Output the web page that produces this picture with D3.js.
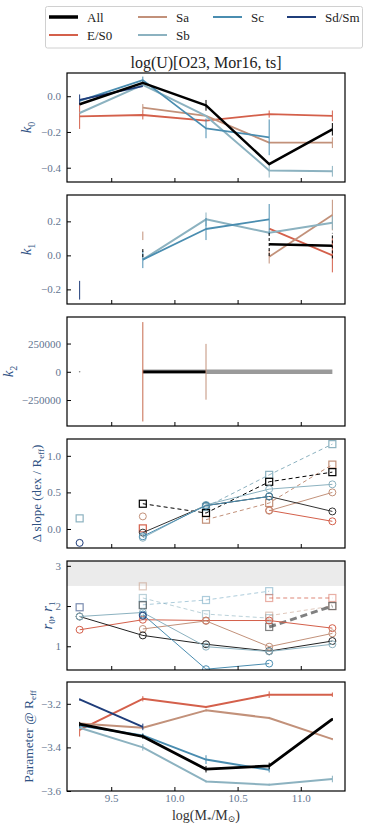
<!DOCTYPE html>
<html>
<head>
<meta charset="utf-8">
<script src="https://cdn.jsdelivr.net/npm/d3@7"></script>
<style>
  body { margin: 0; background: #fff; }
  svg text { font-family: "Liberation Serif", "DejaVu Serif", serif; }
</style>
</head>
<body>
<div id="chart"></div>
<script>
// stellar mass bins
const masses = [9.25, 9.75, 10.25, 10.75, 11.25];
const xTicks = [9.5, 10.0, 10.5, 11.0];

// k0
const k0All = [-0.045, 0.075, -0.051, -0.38, -0.185];
const k0ES0 = [-0.113, -0.105, -0.136, -0.10, -0.11];
const k0Sa  = [null, -0.064, -0.11, -0.26, -0.26];
const k0Sb  = [-0.094, 0.064, -0.11, -0.415, -0.42];
const k0Sc  = [-0.026, 0.09, -0.18, -0.23, null];
const k0Sd  = [-0.02, 0.057, null, null, null];
const k0AllErr = [0, 0, 0.03, 0, 0.035];
const k0ES0Err = [0.07, 0.025, 0, 0.02, 0.03];
const k0SaErr  = [0, 0.02, 0, 0, 0.03];
const k0SbErr  = [0, 0, 0, 0.04, 0.03];
const k0ScErr  = [0, 0.02, 0.055, 0.1, 0];
const k0SdErr  = [0.03, 0, 0, 0, 0];

// k1
const k1All = [null, 0.015, null, 0.066, 0.057];
const k1ES0 = [null, null, null, 0.157, 0.0];
const k1Sa  = [null, 0.115, null, -0.008, 0.237];
const k1Sb  = [null, -0.025, 0.212, 0.133, 0.192];
const k1Sc  = [null, -0.025, 0.155, 0.212, null];
const k1Sd  = [-0.205, null, null, null, null];
const k1AllErr = [0, 0.025, 0, 0.07, 0.075];
const k1ES0Err = [0, 0, 0, 0, 0.1];
const k1SaErr  = [0, 0.025, 0, 0.04, 0.09];
const k1SbErr  = [0, 0, 0.04, 0, 0.04];
const k1ScErr  = [0, 0.05, 0.065, 0.09, 0];
const k1SdErr  = [0.055, 0, 0, 0, 0];

// k2
const k2All   = [null, 0, 0, null, null];
const k2Grey  = [null, 0, 0, 0, 0];
const k2Dot   = [0, null, null, null, null];
const k2ES0Err = [0, 440000, 0, 0, 0];
const k2SaErr  = [0, 0, 247000, 0, 0];

// delta slope: circles (solid) and squares (dashed)
const dsAllC = [null, -0.05, 0.32, 0.445, 0.24];
const dsES0C = [null, null, null, 0.255, 0.105];
const dsSaC  = [null, 0.172, null, 0.25, 0.5];
const dsSbC  = [null, -0.12, 0.33, 0.545, 0.61];
const dsScC  = [null, -0.1, 0.32, 0.445, null];
const dsSdC  = [-0.19, null, null, null, null];
const dsAllS = [null, 0.345, 0.218, 0.645, 0.777];
const dsES0S = [null, 0.008, null, null, null];
const dsSaS  = [null, null, 0.127, 0.355, 0.88];
const dsSbS  = [0.145, null, 0.3, 0.74, 1.16];

// r0 (circles) and r1 (squares)
const rAllC = [1.74, 1.27, 1.05, 0.88, 1.13];
const rES0C = [1.41, 1.66, 1.64, 1.64, 1.45];
const rSaC  = [null, 1.43, 1.63, 0.99, 1.32];
const rSbC  = [1.74, 1.84, 0.99, 0.87, 1.05];
const rScC  = [null, 1.79, 0.43, 0.57, null];
const rSdC  = [null, 1.76, null, null, null];
const rAllS = [null, 2.02, null, 1.48, 2.0];
const rES0S = [null, null, null, 2.2, 2.2];
const rSaS  = [null, 2.49, null, 1.76, 2.0];
const rSbS  = [null, 2.2, 1.8, 1.7, null];
const rScS  = [null, 2.03, 2.15, 2.37, null];
const rSdS  = [1.97, null, null, null, null];

// parameter at Reff
const pAll = [-3.293, -3.35, -3.5, -3.485, -3.27];
const pES0 = [-3.32, -3.177, -3.215, -3.158, -3.158];
const pSa  = [-3.29, -3.31, -3.23, -3.265, -3.362];
const pSb  = [-3.31, -3.40, -3.556, -3.571, -3.545];
const pSc  = [-3.30, -3.345, -3.456, -3.503, null];
const pSd  = [-3.18, -3.306, null, null, null];
const pAllErr = [0.01, 0.01, 0.015, 0.015, 0.005];
const pES0Err = [0.03, 0.012, 0.005, 0.015, 0.01];
const pSaErr  = [0.005, 0.005, 0.005, 0.005, 0.005];
const pSbErr  = [0.005, 0.015, 0.005, 0.005, 0.015];
const pScErr  = [0.01, 0.01, 0.02, 0.012, 0];
const pSdErr  = [0.005, 0.015, 0, 0, 0];

const colors = {
    All: '#000000', 'E/S0': '#d4604b', Sa: '#c2917a',
    Sb: '#8cb2c0', Sc: '#4a8db0', 'Sd/Sm': '#1f3d7a'
};

const W = 373, H = 828;
const left = 67, right = 345, panelH = 109;
const tickColor = '#5f7590';
const labelColor = '#2f5283';

const svg = d3.select('#chart').append('svg')
    .attr('width', W).attr('height', H);

const x = d3.scaleLinear().domain([9.15, 11.35]).range([left, right]);

function drawPanel(p) {
    const top = p.top, bottom = p.top + panelH;
    const y = d3.scaleLinear().domain(p.domain).range([bottom, top]);
    const g = svg.append('g');

    g.append('defs').append('clipPath').attr('id', 'clip' + p.id)
        .append('rect').attr('x', left).attr('y', top)
        .attr('width', right - left).attr('height', panelH);

    const plot = g.append('g').attr('clip-path', `url(#clip${p.id})`);

    if (p.band) {
        plot.append('rect')
            .attr('x', left).attr('width', right - left)
            .attr('y', y(p.domain[1])).attr('height', y(p.band) - y(p.domain[1]))
            .attr('fill', '#ebebeb');
    }

    p.series.forEach(s => {
        const pts = s.values.map((v, i) => ({ x: masses[i], v: v, e: s.errs ? s.errs[i] : 0 }));
        const line = d3.line()
            .defined(d => d.v !== null)
            .x(d => x(d.x)).y(d => y(d.v));
        if (s.width) {
            plot.append('path')
                .datum(pts)
                .attr('d', line)
                .attr('fill', 'none')
                .attr('stroke', s.color)
                .attr('stroke-width', s.width)
                .attr('stroke-dasharray', s.dash || null)
                .attr('opacity', s.opacity || 1)
                .attr('stroke-linejoin', 'round');
        }
        // error bars
        pts.filter(d => d.v !== null && d.e > 0).forEach(d => {
            plot.append('line')
                .attr('x1', x(d.x)).attr('x2', x(d.x))
                .attr('y1', y(d.v - d.e)).attr('y2', y(d.v + d.e))
                .attr('stroke', s.errColor || s.color)
                .attr('stroke-width', 1)
                .attr('stroke-dasharray', s.errDash || null)
                .attr('opacity', s.opacity || 1);
        });
        // markers
        const mk = pts.filter(d => d.v !== null);
        if (s.marker === 'circle') {
            mk.forEach(d => {
                plot.append('circle')
                    .attr('cx', x(d.x)).attr('cy', y(d.v)).attr('r', 3.5)
                    .attr('fill', 'none').attr('stroke', s.color)
                    .attr('stroke-width', 1).attr('opacity', s.opacity || 1);
            });
        } else if (s.marker === 'square') {
            mk.forEach(d => {
                plot.append('rect')
                    .attr('x', x(d.x) - 3.5).attr('y', y(d.v) - 3.5)
                    .attr('width', 7).attr('height', 7)
                    .attr('fill', 'none').attr('stroke', s.color)
                    .attr('stroke-width', 1.2).attr('opacity', s.opacity || 1);
            });
        } else if (s.marker === 'dot') {
            mk.forEach(d => {
                plot.append('circle')
                    .attr('cx', x(d.x)).attr('cy', y(d.v)).attr('r', 0.8)
                    .attr('fill', s.color);
            });
        }
    });

    // y axis (ticks inside)
    const yAxis = g.append('g')
        .attr('transform', `translate(${left},0)`)
        .call(d3.axisLeft(y).tickValues(p.ticks)
            .tickSizeInner(-4).tickSizeOuter(0).tickPadding(6)
            .tickFormat(p.format));
    yAxis.select('.domain').remove();
    yAxis.selectAll('line').attr('stroke', '#000');
    yAxis.selectAll('text').attr('fill', tickColor).style('font-size', '11px');

    // x axis (ticks inside)
    const xAxis = g.append('g')
        .attr('transform', `translate(0,${bottom})`)
        .call(d3.axisBottom(x).tickValues(xTicks)
            .tickSizeInner(-4).tickSizeOuter(0).tickPadding(3)
            .tickFormat(p.last ? d3.format('.1f') : ''));
    xAxis.select('.domain').remove();
    xAxis.selectAll('line').attr('stroke', '#000');
    xAxis.selectAll('text').attr('fill', tickColor).style('font-size', '11px');

    // frame
    g.append('rect')
        .attr('x', left).attr('y', top)
        .attr('width', right - left).attr('height', panelH)
        .attr('fill', 'none').attr('stroke', '#000').attr('stroke-width', 1.2);

    // y label
    const lab = g.append('text')
        .attr('transform', `translate(${p.labelX},${top + panelH / 2}) rotate(-90)`)
        .attr('text-anchor', 'middle')
        .attr('fill', labelColor)
        .style('font-size', p.labelSize || '15px');
    p.label(lab);
}

const fmt1 = d3.format('.1f');

// panel k0
drawPanel({
    id: 1, top: 73, domain: [-0.48, 0.13], ticks: [-0.4, -0.2, 0.0], format: fmt1, labelX: 31,
    label: t => { t.append('tspan').style('font-style', 'italic').text('k');
                  t.append('tspan').attr('dy', 4).style('font-size', '10px').text('0'); },
    series: [
        { values: k0ES0, errs: k0ES0Err, color: colors['E/S0'], width: 1.8 },
        { values: k0Sa, errs: k0SaErr, color: colors.Sa, width: 1.8 },
        { values: k0Sb, errs: k0SbErr, color: colors.Sb, width: 2 },
        { values: k0Sc, errs: k0ScErr, color: colors.Sc, width: 1.8, errDash: null },
        { values: k0Sd, errs: k0SdErr, color: colors['Sd/Sm'], width: 1.8 },
        { values: k0All, errs: k0AllErr, color: colors.All, width: 2.5 }
    ]
});

// panel k1
drawPanel({
    id: 2, top: 195, domain: [-0.286, 0.355], ticks: [-0.2, 0.0, 0.2], format: fmt1, labelX: 31,
    label: t => { t.append('tspan').style('font-style', 'italic').text('k');
                  t.append('tspan').attr('dy', 4).style('font-size', '10px').text('1'); },
    series: [
        { values: k1ES0, errs: k1ES0Err, color: colors['E/S0'], width: 1.8 },
        { values: k1Sa, errs: k1SaErr, color: colors.Sa, width: 1.8 },
        { values: k1Sb, errs: k1SbErr, color: colors.Sb, width: 2 },
        { values: k1Sc, errs: k1ScErr, color: colors.Sc, width: 1.8 },
        { values: k1Sd, errs: k1SdErr, color: colors['Sd/Sm'], width: 1.8 },
        { values: k1All, errs: k1AllErr, color: colors.All, width: 2.5, errDash: '3,2' }
    ]
});

// panel k2
drawPanel({
    id: 3, top: 317, domain: [-480000, 485000], ticks: [-250000, 0, 250000], format: d3.format('d'), labelX: 13,
    label: t => { t.append('tspan').style('font-style', 'italic').text('k');
                  t.append('tspan').attr('dy', 4).style('font-size', '10px').text('2'); },
    series: [
        { values: k2Grey, color: '#9a9a9a', width: 4.5 },
        { values: k2All, color: colors.All, width: 2.5 },
        { values: k2Dot, color: '#888', marker: 'dot' },
        { values: [null, 0, 0, null, null], errs: k2ES0Err, color: '#c66a4c' },
        { values: [null, 0, 0, null, null], errs: k2SaErr, color: colors.Sa }
    ]
});

// panel delta slope
drawPanel({
    id: 4, top: 439, domain: [-0.26, 1.23], ticks: [0.0, 0.5, 1.0], format: fmt1, labelX: 41, labelSize: '13px',
    label: t => { t.append('tspan').text('Δ slope (dex / R');
                  t.append('tspan').attr('dy', 3).style('font-size', '9px').text('eff');
                  t.append('tspan').attr('dy', -3).text(')'); },
    series: [
        { values: dsSbS, color: colors.Sb, width: 1, dash: '4,3', marker: 'square' },
        { values: dsSaS, color: colors.Sa, width: 1, dash: '4,3', marker: 'square' },
        { values: dsES0S, color: colors['E/S0'], width: 1, dash: '4,3', marker: 'square' },
        { values: dsAllS, color: colors.All, width: 1, dash: '4,3', marker: 'square' },
        { values: dsES0C, color: colors['E/S0'], width: 1, marker: 'circle' },
        { values: dsSaC, color: colors.Sa, width: 1, marker: 'circle' },
        { values: dsAllC, color: '#333', width: 1, marker: 'circle' },
        { values: dsSbC, color: colors.Sb, width: 1, marker: 'circle' },
        { values: dsScC, color: colors.Sc, width: 1, marker: 'circle' },
        { values: dsSdC, color: colors['Sd/Sm'], width: 1, marker: 'circle' }
    ]
});

// panel r0, r1
drawPanel({
    id: 5, top: 561, domain: [0.41, 3.12], ticks: [1, 2, 3], format: d3.format('d'), labelX: 52, band: 2.5,
    label: t => { t.append('tspan').style('font-style', 'italic').text('r');
                  t.append('tspan').attr('dy', 3).style('font-size', '9px').text('0');
                  t.append('tspan').attr('dy', -3).text(', ');
                  t.append('tspan').style('font-style', 'italic').text('r');
                  t.append('tspan').attr('dy', 3).style('font-size', '9px').text('1'); },
    series: [
        { values: rSbS, color: colors.Sb, width: 1, dash: '4,3', marker: 'square', opacity: 0.6 },
        { values: rScS, color: colors.Sc, width: 1, dash: '4,3', marker: 'square', opacity: 0.45 },
        { values: rSaS, color: colors.Sa, width: 1, dash: '4,3', marker: 'square', opacity: 0.5 },
        { values: rES0S, color: colors['E/S0'], width: 1.5, dash: '4,3', marker: 'square', opacity: 0.5 },
        { values: rSdS, color: colors['Sd/Sm'], width: 1, dash: '4,3', marker: 'square', opacity: 0.6 },
        { values: rAllS, color: '#555', width: 3, dash: '7,4', marker: 'square', opacity: 0.75 },
        { values: rES0C, color: colors['E/S0'], width: 1, marker: 'circle' },
        { values: rSaC, color: colors.Sa, width: 1, marker: 'circle' },
        { values: rAllC, color: '#222', width: 1, marker: 'circle' },
        { values: rSbC, color: colors.Sb, width: 1, marker: 'circle' },
        { values: rScC, color: colors.Sc, width: 1, marker: 'circle' },
        { values: rSdC, color: colors['Sd/Sm'], width: 1, marker: 'circle' }
    ]
});

// panel parameter @ Reff
drawPanel({
    id: 6, top: 682, domain: [-3.6, -3.1], ticks: [-3.6, -3.4, -3.2], format: fmt1, labelX: 33, last: true, labelSize: '13.5px',
    label: t => { t.append('tspan').text('Parameter @ R');
                  t.append('tspan').attr('dy', 3).style('font-size', '9px').text('eff'); },
    series: [
        { values: pES0, errs: pES0Err, color: colors['E/S0'], width: 2 },
        { values: pSa, errs: pSaErr, color: colors.Sa, width: 2 },
        { values: pSb, errs: pSbErr, color: colors.Sb, width: 2 },
        { values: pSc, errs: pScErr, color: colors.Sc, width: 2 },
        { values: pSd, errs: pSdErr, color: colors['Sd/Sm'], width: 2 },
        { values: pAll, errs: pAllErr, color: colors.All, width: 2.8 }
    ]
});

// x label
const xl = svg.append('text')
    .attr('x', (left + right) / 2).attr('y', 820)
    .attr('text-anchor', 'middle').attr('fill', '#333')
    .style('font-size', '14px');
xl.append('tspan').text('log(M');
xl.append('tspan').attr('dy', 3).style('font-size', '9px').text('*');
xl.append('tspan').attr('dy', -3).text('/M');
xl.append('tspan').attr('dy', 2).style('font-size', '9px').text('⊙');
xl.append('tspan').attr('dy', -2).text(')');

// title
svg.append('text')
    .attr('x', 206).attr('y', 68)
    .attr('text-anchor', 'middle').attr('fill', '#222')
    .style('font-size', '16px')
    .text('log(U)[O23, Mor16, ts]');

// legend
const legend = svg.append('g');
legend.append('rect')
    .attr('x', 45.5).attr('y', 6.5).attr('width', 317).attr('height', 41.5)
    .attr('rx', 2).attr('fill', '#fff').attr('stroke', '#d0d0d0');
const legendItems = [
    { name: 'All', x: 49, y: 17, w: 3.5 },
    { name: 'E/S0', x: 49, y: 35, w: 2 },
    { name: 'Sa', x: 138, y: 17, w: 2 },
    { name: 'Sb', x: 138, y: 35, w: 2 },
    { name: 'Sc', x: 213, y: 17, w: 2 },
    { name: 'Sd/Sm', x: 287, y: 17, w: 2 }
];
legendItems.forEach(d => {
    legend.append('line')
        .attr('x1', d.x).attr('x2', d.x + 29)
        .attr('y1', d.y).attr('y2', d.y)
        .attr('stroke', colors[d.name]).attr('stroke-width', d.w);
    legend.append('text')
        .attr('x', d.x + 38).attr('y', d.y + 4.5)
        .attr('fill', '#222').style('font-size', '13px')
        .text(d.name);
});
</script>
</body>
</html>
